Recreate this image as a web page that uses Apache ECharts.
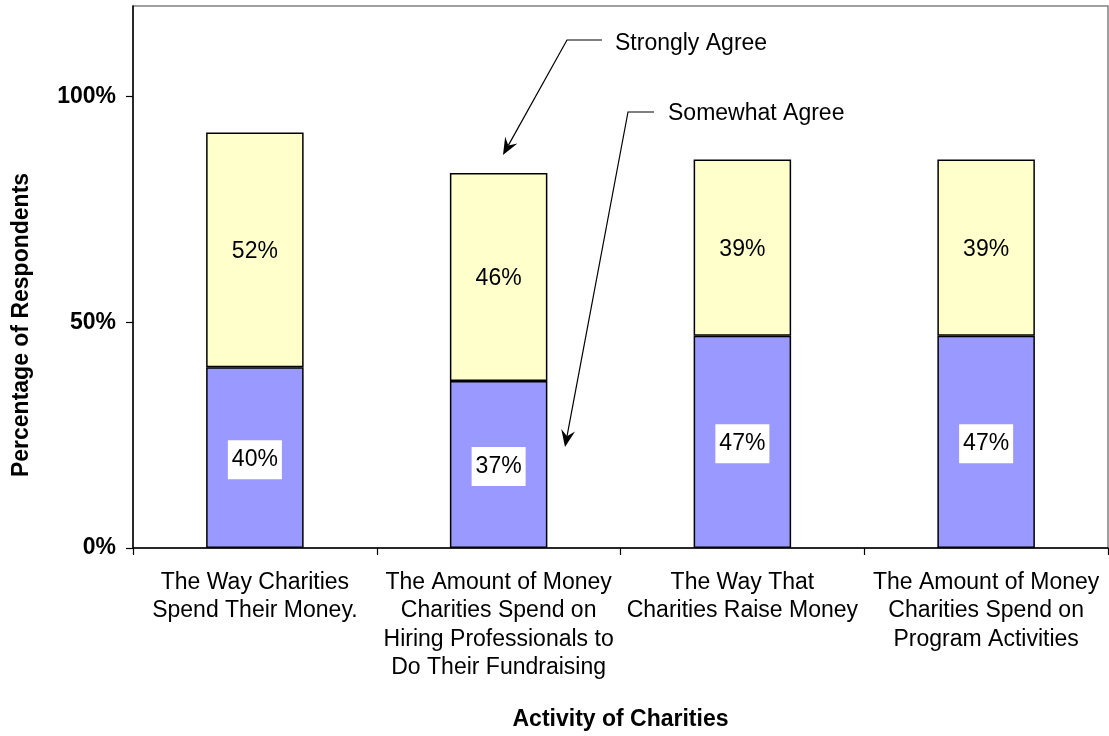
<!DOCTYPE html>
<html>
<head>
<meta charset="utf-8">
<script src="https://cdn.jsdelivr.net/npm/echarts@6/dist/echarts.min.js"></script>
<style>
  html, body { margin: 0; padding: 0; background: #fff; }
  #chart { width: 1109px; height: 736px; }
</style>
</head>
<body>
<div id="chart"></div>
<script>
// Survey answers per charity activity (percent of respondents)
const categories = [
  'The Way Charities\nSpend Their Money.',
  'The Amount of Money\nCharities Spend on\nHiring Professionals to\nDo Their Fundraising',
  'The Way That\nCharities Raise Money',
  'The Amount of Money\nCharities Spend on\nProgram Activities'
];
const somewhatAgree = [40, 37, 47, 47];
const stronglyAgree = [52, 46, 39, 39];
const yTicks = [0, 50, 100];

const FONT = '"Liberation Sans", Arial, Helvetica, sans-serif';
const FS = 23;

// Callout: horizontal leader, then a slanted line ending in a filled arrowhead
function callout(textX, textY, label, corner, lineStartX, tip) {
  const dx = tip[0] - corner[0], dy = tip[1] - corner[1];
  const len = Math.sqrt(dx * dx + dy * dy);
  const ux = dx / len, uy = dy / len;
  const px = -uy, py = ux;
  const L = 17, W = 7, N = 11;
  const base = [tip[0] - ux * L, tip[1] - uy * L];
  const notch = [tip[0] - ux * N, tip[1] - uy * N];
  const head = [
    tip,
    [base[0] + px * W, base[1] + py * W],
    notch,
    [base[0] - px * W, base[1] - py * W]
  ];
  return [
    {
      type: 'polyline',
      shape: { points: [[lineStartX, corner[1]], corner, notch] },
      style: { stroke: '#000', lineWidth: 1.2, fill: null }
    },
    {
      type: 'polygon',
      shape: { points: head },
      style: { fill: '#000' }
    },
    {
      type: 'text',
      x: textX, y: textY,
      style: {
        text: label, font: FS + 'px ' + FONT, fill: '#000',
        verticalAlign: 'middle', align: 'left'
      }
    }
  ];
}

const chart = echarts.init(document.getElementById('chart'));

chart.setOption({
  backgroundColor: '#fff',
  animation: false,
  textStyle: { fontFamily: FONT },
  grid: {
    left: 133, right: 1, top: 6, bottom: 185,
    show: true, borderColor: '#808080', borderWidth: 1.5, backgroundColor: 'transparent'
  },
  xAxis: {
    type: 'category',
    data: categories,
    name: 'Activity of Charities',
    nameLocation: 'middle',
    nameGap: 160,
    nameTextStyle: { fontSize: FS, fontWeight: 'bold', color: '#000', fontFamily: FONT },
    axisLine: { lineStyle: { color: '#000', width: 1.5 } },
    axisTick: { show: true, length: 7, inside: false, alignWithLabel: false, lineStyle: { color: '#000', width: 1.2 } },
    axisLabel: {
      interval: 0, margin: 20, fontSize: FS, lineHeight: 28.5,
      color: '#000', fontFamily: FONT, align: 'center'
    },
    splitLine: { show: false }
  },
  yAxis: {
    type: 'value',
    min: 0, max: 120, interval: 50,
    axisLine: { show: true, lineStyle: { color: '#000', width: 1.5 } },
    axisTick: { show: true, length: 7, customValues: yTicks, lineStyle: { color: '#000', width: 1.2 } },
    axisLabel: {
      customValues: yTicks,
      formatter: '{value}%', margin: 17, fontSize: FS, fontWeight: 'bold',
      color: '#000', fontFamily: FONT, padding: [4, 0, 0, 0]
    },
    splitLine: { show: false }
  },
  series: [
    {
      name: 'Somewhat Agree',
      type: 'bar',
      stack: 'agree',
      barWidth: '40%',
      data: somewhatAgree,
      itemStyle: { color: '#9999FF', borderColor: '#000', borderWidth: 1.5 },
      label: {
        show: true, position: 'inside', formatter: '{c}%', offset: [0, 2],
        fontSize: FS, color: '#000', fontFamily: FONT,
        backgroundColor: '#fff', padding: [8, 4, 7, 4], lineHeight: 24
      }
    },
    {
      name: 'Strongly Agree',
      type: 'bar',
      stack: 'agree',
      barWidth: '40%',
      data: stronglyAgree,
      itemStyle: { color: '#FFFFCC', borderColor: '#000', borderWidth: 1.5 },
      label: {
        show: true, position: 'inside', formatter: '{c}%', offset: [0, 2],
        fontSize: FS, color: '#000', fontFamily: FONT
      }
    }
  ],
  graphic: [
    {
      type: 'text',
      x: 22, y: 325,
      rotation: Math.PI / 2,
      style: {
        text: 'Percentage of Respondents',
        font: 'bold ' + FS + 'px ' + FONT, fill: '#000',
        align: 'center', verticalAlign: 'middle'
      }
    },
    ...callout(615, 44, 'Strongly Agree', [567, 40], 602, [503, 155]),
    ...callout(668, 114, 'Somewhat Agree', [628, 112], 654, [565, 447])
  ]
});
</script>
</body>
</html>
